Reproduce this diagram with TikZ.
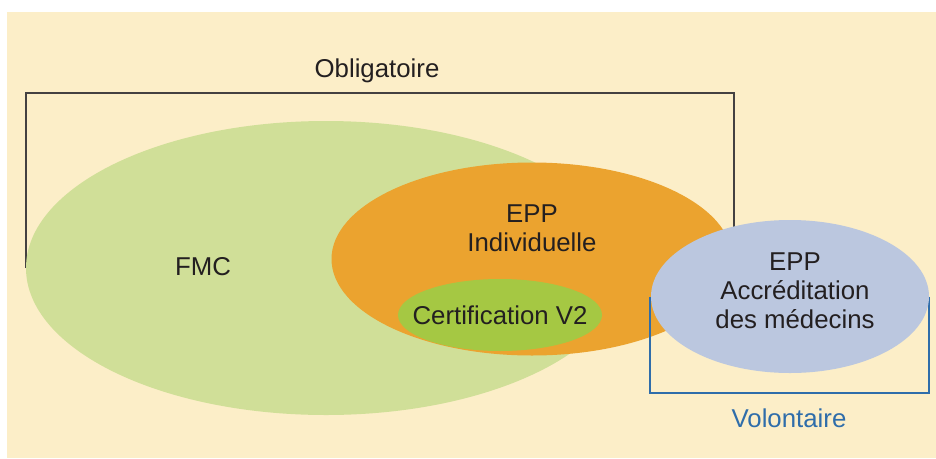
\documentclass[tikz,border=0pt]{standalone}
\usepackage{fontspec}
\setmainfont{Liberation Sans}
\usetikzlibrary{shapes.geometric}
\definecolor{cream}{HTML}{FCEEC8}
\definecolor{fmcgreen}{HTML}{D0DF98}
\definecolor{eppor}{HTML}{EBA32F}
\definecolor{certgreen}{HTML}{A5C843}
\definecolor{accblue}{HTML}{BBC7DF}
\definecolor{inkdark}{HTML}{231F20}
\definecolor{volblue}{HTML}{2F6DAA}
\tikzset{
  blob/.style={ellipse, draw=none, inner sep=0pt},
  lbl/.style={text=inkdark, align=center, inner sep=0pt,
    font=\fontsize{25.8}{29}\selectfont},
  oblig/.style={draw=inkdark!85, line width=1.3pt},
  volont/.style={draw=volblue, line width=1.3pt},
}
\begin{document}
\begin{tikzpicture}[x=1pt,y=-1pt]
  \useasboundingbox (0,0) rectangle (936,458);
  \fill[white] (0,0) rectangle (936,458);
  \fill[cream] (7,12) rectangle (936,458);

  % bracket for the compulsory part (behind the sets)
  \coordinate (ob1) at (26,268);
  \coordinate (ob2) at (26,93);
  \coordinate (ob3) at (734,93);
  \coordinate (ob4) at (734,268);
  \draw[oblig] (ob1) -- (ob2) -- (ob3) -- (ob4);
  \node[lbl] (obl) at (377,71) {Obligatoire};

  % sets
  \node[blob, fill=fmcgreen, minimum width=600pt, minimum height=294pt] (fmc) at (326,268) {};
  \node[blob, fill=eppor, minimum width=401pt, minimum height=193pt] (ind) at (532,259) {};
  \node[blob, fill=certgreen, minimum width=204pt, minimum height=72pt] (cert) at (500,315) {};

  % bracket for the voluntary part
  \coordinate (vo1) at (650,297);
  \coordinate (vo2) at (650,393);
  \coordinate (vo3) at (929,393);
  \coordinate (vo4) at (929,297);
  \draw[volont] (vo1) -- (vo2) -- (vo3) -- (vo4);
  \node[lbl, text=volblue] (vol) at (789,418) {Volontaire};

  \node[blob, fill=accblue, minimum width=278pt, minimum height=153pt] (acc) at (790,296.5) {};

  % labels
  \node[lbl] (tfmc) at (203,267) {FMC};
  \node[lbl] (tind) at (532,228) {EPP\\Individuelle};
  \node[lbl] (tcert) at (500,315) {Certification V2};
  \node[lbl] (tacc) at (795,291) {EPP\\Accréditation\\des médecins};
\end{tikzpicture}
\end{document}
